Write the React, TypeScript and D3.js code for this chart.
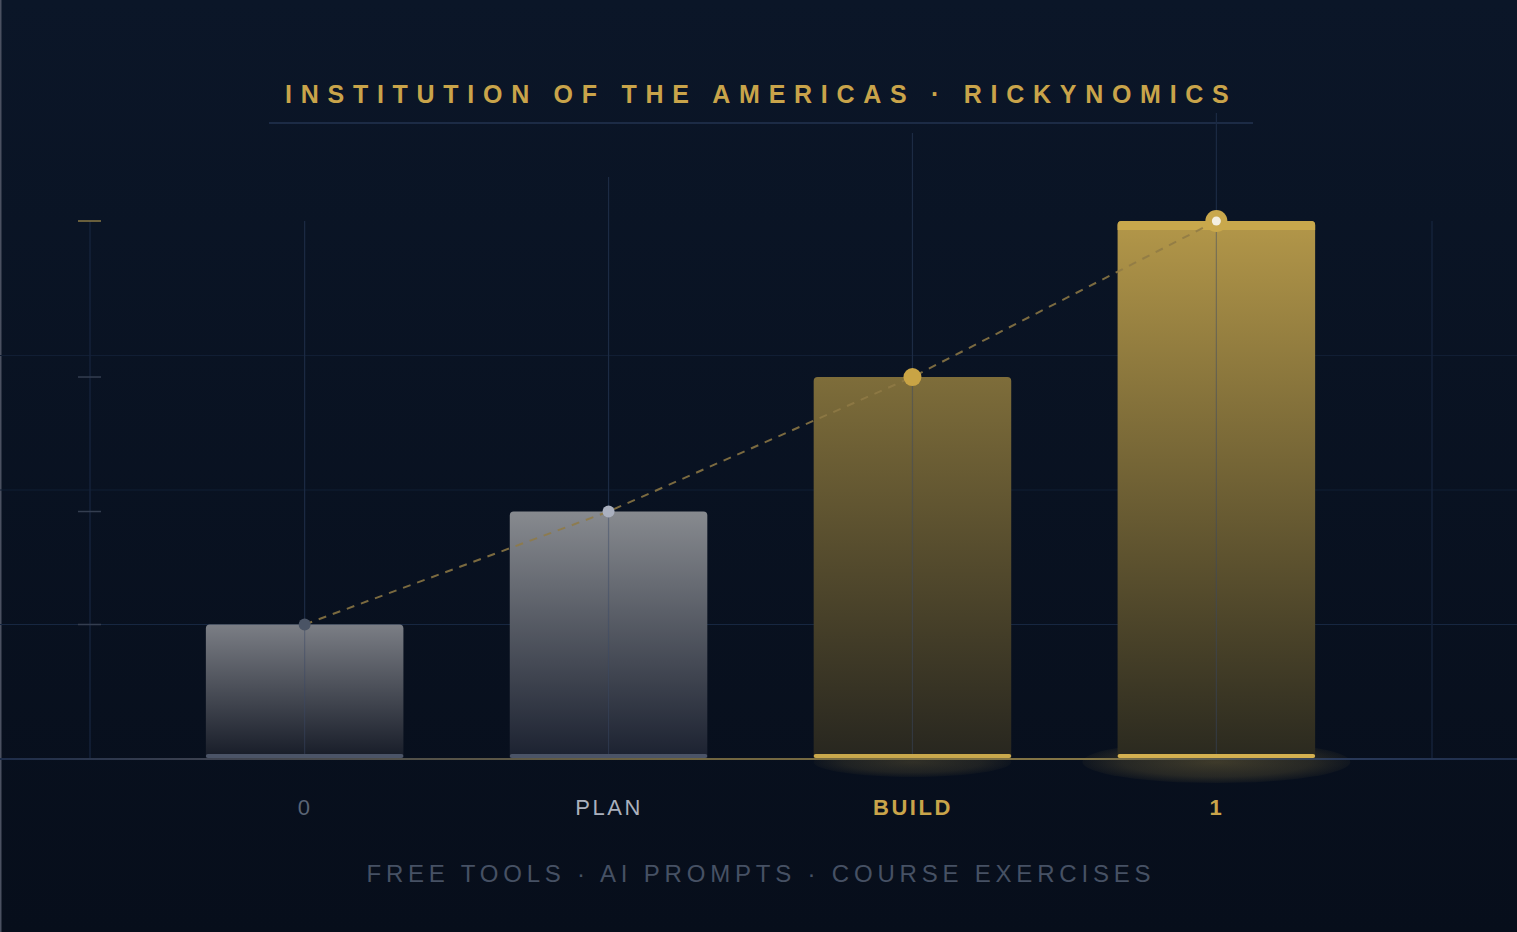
import React from "react";
import * as d3 from "d3";

const categories = ["0", "PLAN", "BUILD", "1"];
const values = [25, 46, 71, 100];
const gridValues = [25, 50, 75];
const titleText = "INSTITUTION OF THE AMERICAS · RICKYNOMICS";
const footerText = "FREE TOOLS · AI PROMPTS · COURSE EXERCISES";

const W = 1517;
const H = 932;

const barStyles = [
  { top: "#7b7e85", bottom: "#161b27", strip: "#4b5467", point: "#4a5465", r: 6, label: "#5a6475", weight: 400 },
  { top: "#878a8f", bottom: "#1b2130", strip: "#4b5467", point: "#aab0bf", r: 6, label: "#aab0bd", weight: 400 },
  { top: "#7e6d3a", bottom: "#27261f", strip: "#c9a84c", point: "#c9a445", r: 9, label: "#c9a44a", weight: 700 },
  { top: "#b39749", bottom: "#2a291f", strip: "#d4b050", point: "#c9a84c", r: 11, label: "#c9a44a", weight: 700 },
];
const guideTops = [221, 177, 133, 113];

export default function App() {
  const x = d3.scaleBand<string>().domain(categories).range([99.5, 1421.5]).paddingInner(0.35).paddingOuter(0.35);
  const y = d3.scaleLinear().domain([0, 100]).range([759, 221]);
  const bw = x.bandwidth();
  const base = y(0);
  const pts = categories.map((c, i) => [x(c)! + bw / 2, y(values[i])] as [number, number]);
  const linePath = d3.line()(pts) || "";

  const roundTop = (x0: number, y0: number, w: number, h: number, r: number) => {
    const p = d3.path();
    p.moveTo(x0, y0 + h);
    p.lineTo(x0, y0 + r);
    p.arcTo(x0, y0, x0 + r, y0, r);
    p.lineTo(x0 + w - r, y0);
    p.arcTo(x0 + w, y0, x0 + w, y0 + r, r);
    p.lineTo(x0 + w, y0 + h);
    p.closePath();
    return p.toString();
  };

  return (
    <div style={{ position: "fixed", left: 0, top: 0, width: W, height: H }}>
      <svg width={W} height={H} style={{ display: "block" }}>
        <defs>
          <linearGradient id="bg" x1="0" y1="0" x2="0" y2="1">
            <stop offset="0" stopColor="#0b1628" />
            <stop offset="1" stopColor="#070e1b" />
          </linearGradient>
          {barStyles.map((s, i) => (
            <linearGradient key={i} id={`bar${i}`} x1="0" y1="0" x2="0" y2="1">
              <stop offset="0" stopColor={s.top} />
              <stop offset="1" stopColor={s.bottom} />
            </linearGradient>
          ))}
          <linearGradient id="baseline" x1="0" y1="0" x2={W} y2="0" gradientUnits="userSpaceOnUse">
            <stop offset="0" stopColor="#1e2d4a" />
            <stop offset="0.14" stopColor="#3d4250" />
            <stop offset="0.45" stopColor="#6f6440" />
            <stop offset="0.72" stopColor="#857646" />
            <stop offset="0.88" stopColor="#2a3a5a" />
            <stop offset="1" stopColor="#1e2d4a" />
          </linearGradient>
          <radialGradient id="glow">
            <stop offset="0" stopColor="#c9a84c" stopOpacity="0.28" />
            <stop offset="0.7" stopColor="#c9a84c" stopOpacity="0.16" />
            <stop offset="1" stopColor="#c9a84c" stopOpacity="0.04" />
          </radialGradient>
        </defs>
        <rect x={0} y={0} width={W} height={H} fill="url(#bg)" />
        <line x1={0.75} x2={0.75} y1={0} y2={H} stroke="#4a5060" strokeWidth={1.5} />

        {/* title */}
        <text x={W / 2 + 2.8} y={103} textAnchor="middle" fill="#c9a44a" fontFamily="'Liberation Sans', Arial, sans-serif" fontWeight={700} fontSize={25} letterSpacing={8.72}>
          {titleText}
        </text>
        <line x1={269} x2={1253} y1={123} y2={123} stroke="#1c2b45" strokeWidth={2} />

        {/* horizontal grid */}
        {gridValues.map((v) => (
          <line key={v} x1={0} x2={W} y1={y(v)} y2={y(v)} stroke={v === 25 ? "#172741" : "#111e34"} strokeWidth={1.2} />
        ))}

        {/* axis */}
        <line x1={90} x2={90} y1={y(100)} y2={base} stroke="#14223a" strokeWidth={1.5} />
        <line x1={1432} x2={1432} y1={y(100)} y2={base} stroke="#14223a" strokeWidth={1.5} />
        {values.concat([0]).map((v, i) => (
          <line key={i} x1={78} x2={101} y1={y(v)} y2={y(v)} stroke={v === 100 ? "#8a7844" : "#343e50"} strokeWidth={1.5} />
        ))}

        {/* vertical guides behind bars */}
        {pts.map((p, i) => (
          <line key={i} x1={p[0]} x2={p[0]} y1={guideTops[i]} y2={base} stroke="#1c2b44" strokeWidth={1.2} />
        ))}

        {/* glows */}
        <ellipse cx={pts[2][0]} cy={762} rx={bw / 2} ry={15} fill="url(#glow)" opacity={0.75} />
        <ellipse cx={pts[3][0]} cy={762} rx={134} ry={21} fill="url(#glow)" />

        {/* bars */}
        {categories.map((c, i) => {
          const x0 = x(c)!;
          const y0 = y(values[i]);
          const s = barStyles[i];
          return (
            <g key={c}>
              <path d={roundTop(x0, y0, bw, base - y0, 4)} fill={`url(#bar${i})`} />
              {i === 3 && <path d={roundTop(x0, y0, bw, 9, 4)} fill="#c8a84c" />}
              <rect x={x0} y={base - 5} width={bw} height={4} rx={2} fill={s.strip} />
            </g>
          );
        })}

        {/* baseline */}
        <line x1={0} x2={W} y1={base} y2={base} stroke="url(#baseline)" strokeWidth={2} />

        {/* faint guides over bars */}
        {pts.map((p, i) => (
          <line key={i} x1={p[0]} x2={p[0]} y1={p[1]} y2={base - 5} stroke="#3a4a66" strokeOpacity={0.45} strokeWidth={1.2} />
        ))}

        {/* dashed trend */}
        <path d={linePath} fill="none" stroke="#8f7a45" strokeOpacity={0.85} strokeWidth={2} strokeDasharray="8 7" />

        {/* points */}
        {pts.map((p, i) => (
          <g key={i}>
            <circle cx={p[0]} cy={p[1]} r={barStyles[i].r} fill={barStyles[i].point} />
            {i === 3 && <circle cx={p[0]} cy={p[1]} r={4.5} fill="#f4efe0" />}
          </g>
        ))}

        {/* category labels */}
        {categories.map((c, i) => (
          <text key={c} x={pts[i][0] + 0.5} y={815} textAnchor="middle" fill={barStyles[i].label} fontFamily="'Liberation Sans', Arial, sans-serif" fontWeight={barStyles[i].weight} fontSize={22} letterSpacing={2.5}>
            {c}
          </text>
        ))}

        {/* footer */}
        <text x={W / 2 + 2.4} y={882} textAnchor="middle" fill="#465164" fontFamily="'Liberation Sans', Arial, sans-serif" fontSize={24} letterSpacing={4.8}>
          {footerText}
        </text>
      </svg>
    </div>
  );
}
